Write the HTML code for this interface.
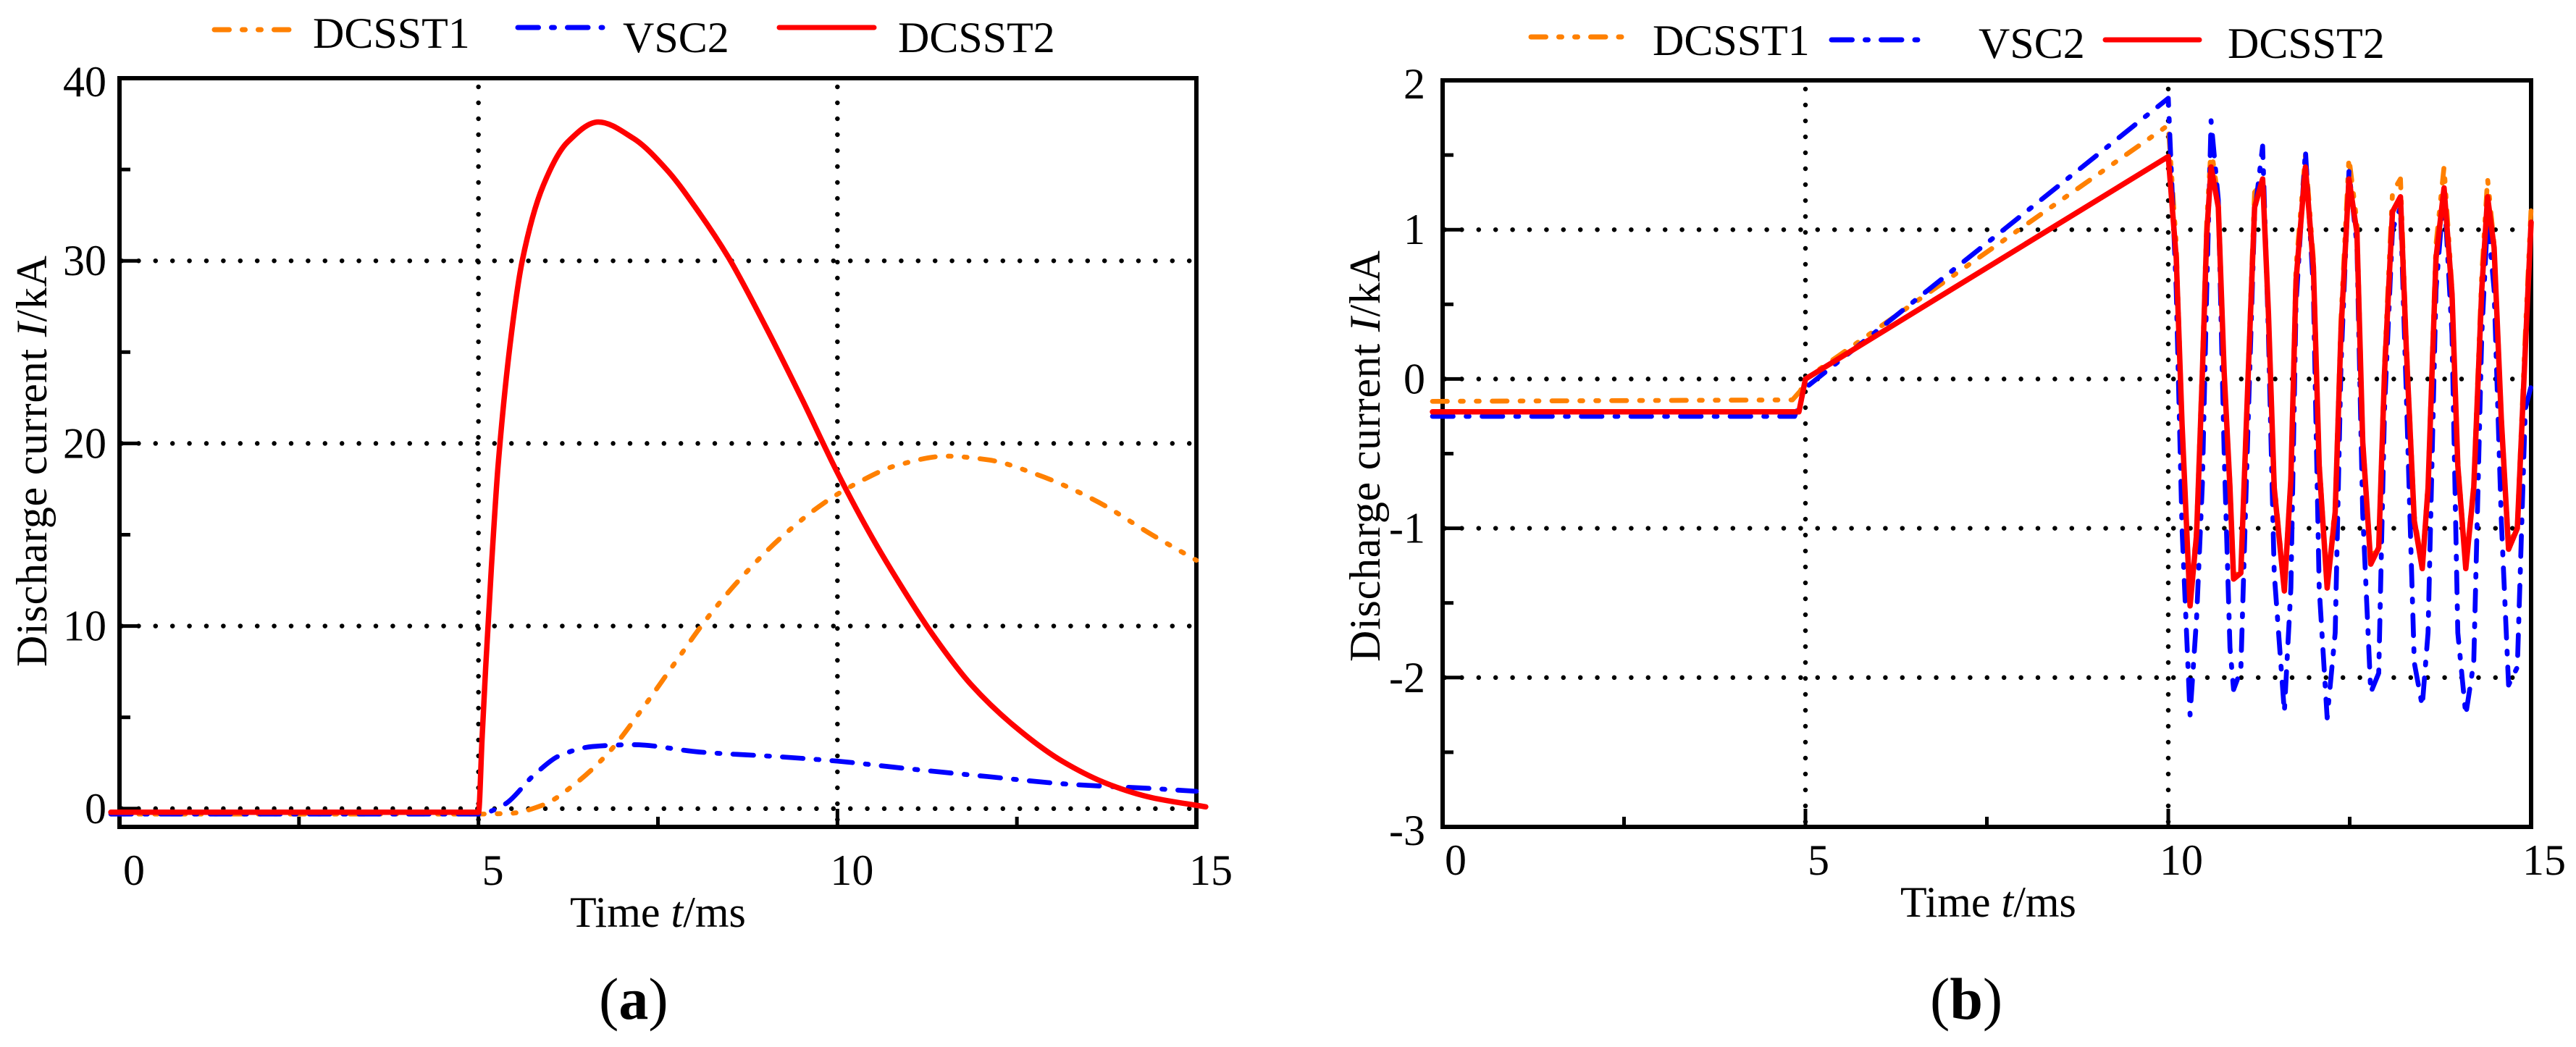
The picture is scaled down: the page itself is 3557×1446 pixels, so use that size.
<!DOCTYPE html>
<html lang="en">
<head>
<meta charset="utf-8">
<title>Discharge current charts</title>
<style>
html,body{margin:0;padding:0;background:#fff;width:3557px;height:1446px;overflow:hidden}
svg{display:block}
text{font-family:"Liberation Serif",serif;fill:#000;font-size:60px}
</style>
</head>
<body>
<svg id="figure" xmlns="http://www.w3.org/2000/svg" width="3557" height="1446" viewBox="0 0 3557 1446">
  <rect width="3557" height="1446" fill="#fff"/>
  <g id="panelA"></g>
  <g id="panelB"></g>
  <text x="827" y="1407" style="font-size:82px">(<tspan font-weight="bold">a</tspan>)</text>
  <text x="2665" y="1407" style="font-size:82px">(<tspan font-weight="bold">b</tspan>)</text>
</svg>
<script>
// ---------- Panel (a) data ----------
const aXTicks = [0, 5, 10, 15];
const aYTicks = [0, 10, 20, 30, 40];
const aRedT = [-0.12, 4.9, 5.0, 5.05, 5.10, 5.18, 5.27, 5.44, 5.61, 5.90, 6.24, 6.67, 7.16, 7.62, 8.08, 8.48, 9.0, 9.51, 10.0, 10.49, 10.95, 11.35, 11.86, 12.44, 13.13, 13.8, 14.38, 15.13];
const aRedV = [-0.2, -0.2, -0.2, 3.8, 7.7, 13.2, 18.6, 25.4, 30.0, 34.1, 36.5, 37.6, 36.7, 35.0, 32.6, 30.2, 26.4, 22.4, 18.4, 14.8, 11.8, 9.4, 6.8, 4.6, 2.6, 1.3, 0.6, 0.1];
const aOrangeT = [-0.12, 4.9, 5.44, 5.9, 6.36, 6.82, 7.27, 7.74, 8.2, 8.65, 9.23, 9.8, 10.26, 10.83, 11.52, 12.1, 12.78, 13.58, 14.38, 15.0];
const aOrangeV = [-0.3, -0.3, -0.26, 0.2, 1.4, 3.1, 5.4, 8.0, 10.5, 12.6, 14.9, 16.7, 17.8, 18.8, 19.3, 19.1, 18.3, 16.9, 15.0, 13.6];
const aBlueT = [-0.12, 5.0, 5.35, 5.79, 6.13, 6.59, 7.16, 8.08, 9.23, 10.0, 10.95, 12.1, 13.24, 14.38, 15.0];
const aBlueV = [-0.3, -0.3, 0.2, 1.9, 2.9, 3.4, 3.5, 3.1, 2.83, 2.6, 2.2, 1.75, 1.33, 1.1, 0.95];

// ---------- Panel (b) data ----------
const bXTicks = [0, 5, 10, 15];
const bYTicks = [-3, -2, -1, 0, 1, 2];
const bOscT = [10.0,10.11,10.19,10.30,10.39,10.47,10.53,10.59,10.69,10.77,10.85,10.90,11.0,11.10,11.19,11.30,11.38,11.46,11.60,11.69,11.76,11.89,12.0,12.08,12.19,12.30,12.38,12.49,12.60,12.68,12.79,12.90,12.98,13.09,13.2,13.28,13.39,13.5,13.58,13.69,13.8,13.91,13.99,14.1,14.21,14.32,14.4,14.49,14.59,14.69,14.81,14.92,15.0];
const bRedOsc = [1.49,.81,-.3,-1.52,-1.04,.04,.97,1.42,1.15,.04,-.73,-1.34,-1.30,.01,1.15,1.34,.44,-.73,-1.42,-.67,.66,1.42,.75,-.58,-1.40,-.89,.32,1.34,.98,-.42,-1.24,-1.13,.04,1.12,1.22,.2,-.95,-1.27,-.73,.81,1.28,.57,-.58,-1.27,-.73,.6,1.22,.88,-.27,-1.14,-1.0,.2,1.05];
const bBlueOsc = [1.88,.6,-1.0,-2.25,-1.6,-.7,.6,1.73,1.2,-.5,-1.8,-2.08,-1.95,-.3,1.1,1.56,.3,-1.3,-2.23,-1.4,.5,1.53,.6,-1.4,-2.27,-1.7,.1,1.39,.9,-.9,-2.1,-1.97,-.2,1.0,1.15,-.1,-1.9,-2.19,-1.7,.6,1.27,.3,-1.7,-2.25,-1.9,.3,1.08,.6,-.95,-2.05,-1.93,-.2,-.05];
const bOrangeOsc = [1.7,.9,-.3,-1.5,-1.0,.1,1.05,1.55,1.2,.05,-.7,-1.33,-1.28,.05,1.25,1.32,.45,-.7,-1.4,-.65,.75,1.5,.8,-.55,-1.38,-.85,.4,1.48,1.05,-.4,-1.22,-1.1,.1,1.25,1.34,.25,-.92,-1.25,-.7,.9,1.42,.6,-.55,-1.25,-.7,.7,1.34,.9,-.25,-1.12,-.98,.3,1.14];
const bRedLeadT = [-0.14, 4.91, 5.0];
const bRedLeadV = [-0.22, -0.22, 0.0];
const bBlueLeadT = [-0.14, 4.85, 5.0];
const bBlueLeadV = [-0.25, -0.25, -0.06];
const bOrangeLeadT = [-0.14, 4.82, 4.93, 5.0];
const bOrangeLeadV = [-0.15, -0.14, -0.08, 0.0];

const legendNames = ['DCSST1', 'VSC2', 'DCSST2'];
const seriesColors = ['#ff8000', '#0000ff', '#ff0000'];

const NS = 'http://www.w3.org/2000/svg';
const DASH_ORANGE = '20.5 18 4 18 4 18';
const DASH_BLUE = '28.5 18 4 18';

function shape(parent, tag, attrs) {
  const el = document.createElementNS(NS, tag);
  for (const k in attrs) el.setAttribute(k, attrs[k]);
  parent.appendChild(el);
  return el;
}

// monotone cubic path: no overshoot at the current step
function smoothPath(pts) {
  const n = pts.length, dk = [], m = [];
  for (let i = 0; i < n - 1; i++) dk.push((pts[i + 1][1] - pts[i][1]) / (pts[i + 1][0] - pts[i][0]));
  m[0] = dk[0];
  m[n - 1] = dk[n - 2];
  for (let i = 1; i < n - 1; i++) {
    if (dk[i - 1] * dk[i] <= 0) { m[i] = 0; continue; }
    const h0 = pts[i][0] - pts[i - 1][0], h1 = pts[i + 1][0] - pts[i][0];
    const w1 = 2 * h1 + h0, w2 = h1 + 2 * h0;
    m[i] = (w1 + w2) / (w1 / dk[i - 1] + w2 / dk[i]);
  }
  let d = 'M' + pts[0][0].toFixed(1) + ' ' + pts[0][1].toFixed(1);
  for (let i = 0; i < n - 1; i++) {
    const h = (pts[i + 1][0] - pts[i][0]) / 3;
    d += 'C' + (pts[i][0] + h).toFixed(1) + ' ' + (pts[i][1] + m[i] * h).toFixed(1) + ' ' + (pts[i + 1][0] - h).toFixed(1) + ' ' + (pts[i + 1][1] - m[i + 1] * h).toFixed(1) + ' ' + pts[i + 1][0].toFixed(1) + ' ' + pts[i + 1][1].toFixed(1);
  }
  return d;
}

function straightPath(pts) {
  return 'M' + pts.map(p => p[0].toFixed(1) + ' ' + p[1].toFixed(1)).join('L');
}

function buildPanel(cfg) {
  const g = document.getElementById(cfg.id);
  const sx = t => cfg.left + (t - 0) * (cfg.right - cfg.left) / 15;
  const sy = v => cfg.bottom - (v - cfg.yMin) * (cfg.bottom - cfg.top) / (cfg.yMax - cfg.yMin);

  // dotted grid
  cfg.gridY.forEach(v => {
    const el = shape(g, 'line', {x1: cfg.left + 3, x2: cfg.right - 3, y1: sy(v), y2: sy(v), stroke: '#000', 'stroke-width': 6.5, 'stroke-linecap': 'round', 'stroke-dasharray': '0 23.4'});
    
    
  });
  [5, 10].forEach(t => {
    const el = shape(g, 'line', {x1: sx(t), x2: sx(t), y1: cfg.top + 12, y2: cfg.bottom - 3, stroke: '#000', 'stroke-width': 6.5, 'stroke-linecap': 'round', 'stroke-dasharray': '0 22'});
    
    
  });

  // ticks
  cfg.yTicks.forEach(v => {
    const el = shape(g, 'line', {x1: cfg.left, x2: cfg.left + 27, y1: sy(v), y2: sy(v), stroke: '#000', 'stroke-width': 5});
    
    
  });
  cfg.yTicks.slice(0, -1).forEach((v, i) => {
    const m = (v + cfg.yTicks[i + 1]) / 2;
    const el = shape(g, 'line', {x1: cfg.left, x2: cfg.left + 15, y1: sy(m), y2: sy(m), stroke: '#000', 'stroke-width': 5});
    
    
  });
  cfg.xTicks.forEach(t => {
    const el = shape(g, 'line', {x1: sx(t), x2: sx(t), y1: cfg.bottom, y2: cfg.bottom - 25, stroke: '#000', 'stroke-width': 5});
    
    
  });
  cfg.xTicks.slice(0, -1).forEach((t, i) => {
    const m = (t + cfg.xTicks[i + 1]) / 2;
    const el = shape(g, 'line', {x1: sx(m), x2: sx(m), y1: cfg.bottom, y2: cfg.bottom - 14, stroke: '#000', 'stroke-width': 5});
    
    
  });

  // frame
  const frame = shape(g, 'rect', {x: cfg.left, y: cfg.top, width: cfg.right - cfg.left, height: cfg.bottom - cfg.top, fill: 'none', stroke: '#000', 'stroke-width': 6});
  
  

  // tick labels
  cfg.yTicks.forEach((v, i) => {
    const edge = (i === cfg.yTicks.length - 1 || (cfg.id === 'panelB' && i === 0)) ? 5 : 0;
    const el = shape(g, 'text', {x: cfg.labelRight, y: sy(v) + 20 + edge, 'text-anchor': 'end'});
    el.textContent = String(v);
    
    
  });
  cfg.xTicks.forEach(t => {
    const el = shape(g, 'text', {x: sx(t) + cfg.xLabelDx, y: cfg.xLabelY, 'text-anchor': 'middle'});
    el.textContent = String(t);
    
    
  });

  // axis titles
  const xt = shape(g, 'text', {x: cfg.xTitleX, y: cfg.xTitleY});
  xt.innerHTML = 'Time <tspan font-style="italic">t</tspan>/ms';
  
  
  const yt = shape(g, 'text', {transform: 'translate(' + cfg.yTitleX + ' ' + cfg.yTitleY + ') rotate(-90)', textLength: 568, lengthAdjust: 'spacing'});
  yt.innerHTML = 'Discharge current <tspan font-style="italic">I</tspan>/kA';
  
  

  // series
  cfg.series.forEach(s => {
    const pts = s.t.map((t, i) => [sx(t), sy(s.v[i])]);
    const d = cfg.smooth ? smoothPath(pts) : straightPath(pts);
    const attrs = {d: d, fill: 'none', stroke: s.color, 'stroke-width': s.width, 'stroke-linecap': 'round', 'stroke-linejoin': 'round'};
    if (s.dash) attrs['stroke-dasharray'] = s.dash;
    const el = shape(g, 'path', attrs);
    
    
  });

  // legend
  cfg.legend.forEach((l, i) => {
    const line = shape(g, 'line', {x1: l.x1 + 3, x2: l.x2 - 3, y1: l.ly, y2: l.ly, stroke: seriesColors[i], 'stroke-width': 7, 'stroke-linecap': 'round'});
    if (i === 0) line.setAttribute('stroke-dasharray', DASH_ORANGE);
    if (i === 1) line.setAttribute('stroke-dasharray', DASH_BLUE);
    
    
    const txt = shape(g, 'text', {x: l.tx, y: l.ty});
    txt.textContent = legendNames[i];
    
    
  });
}

buildPanel({
  id: 'panelA', prefix: 'a', smooth: true,
  left: 165, right: 1652, top: 108, bottom: 1142, yMin: -1, yMax: 40,
  xTicks: aXTicks, yTicks: aYTicks, gridY: [0, 10, 20, 30],
  labelRight: 147, xLabelDx: 20, xLabelY: 1222,
  xTitleX: 787, xTitleY: 1280, yTitleX: 64, yTitleY: 921,
  series: [
    {name: 'DCSST1', t: aOrangeT, v: aOrangeV, color: seriesColors[0], width: 6.7, dash: DASH_ORANGE},
    {name: 'VSC2', t: aBlueT, v: aBlueV, color: seriesColors[1], width: 6.7, dash: DASH_BLUE},
    {name: 'DCSST2', t: aRedT, v: aRedV, color: seriesColors[2], width: 7.5}
  ],
  legend: [
    {x1: 293, x2: 420, ly: 41, tx: 432, ty: 66},
    {x1: 712, x2: 835, ly: 38, tx: 860, ty: 72},
    {x1: 1073, x2: 1210, ly: 38, tx: 1240, ty: 72}
  ]
});

buildPanel({
  id: 'panelB', prefix: 'b', smooth: false,
  left: 1992, right: 3495, top: 111, bottom: 1142, yMin: -3, yMax: 2,
  xTicks: bXTicks, yTicks: bYTicks, gridY: [-2, -1, 0, 1],
  labelRight: 1968, xLabelDx: 18, xLabelY: 1208,
  xTitleX: 2624, xTitleY: 1266, yTitleX: 1905, yTitleY: 914,
  series: [
    {name: 'DCSST1', t: bOrangeLeadT.concat(bOscT), v: bOrangeLeadV.concat(bOrangeOsc), color: seriesColors[0], width: 6.7, dash: DASH_ORANGE},
    {name: 'VSC2', t: bBlueLeadT.concat(bOscT), v: bBlueLeadV.concat(bBlueOsc), color: seriesColors[1], width: 6.7, dash: DASH_BLUE},
    {name: 'DCSST2', t: bRedLeadT.concat(bOscT), v: bRedLeadV.concat(bRedOsc), color: seriesColors[2], width: 7.5}
  ],
  legend: [
    {x1: 2111, x2: 2242, ly: 51, tx: 2282, ty: 76},
    {x1: 2526, x2: 2653, ly: 55, tx: 2732, ty: 80},
    {x1: 2904, x2: 3040, ly: 55, tx: 3076, ty: 80}
  ]
});
</script>
</body>
</html>
